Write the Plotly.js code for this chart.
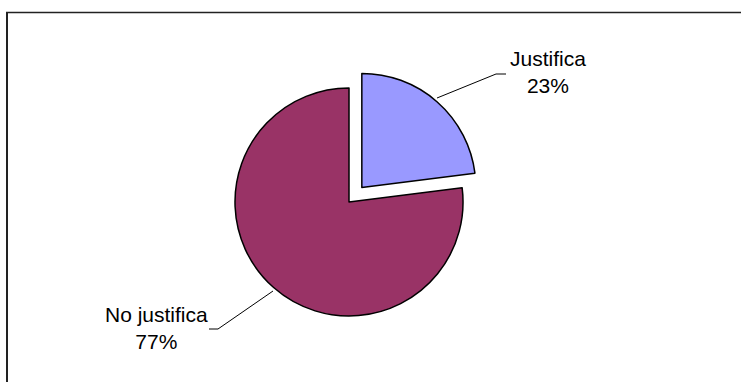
<!DOCTYPE html>
<html>
<head>
<meta charset="utf-8">
<script src="https://cdn.plot.ly/plotly-3.0.1.min.js"></script>
<style>html,body{margin:0;padding:0;background:#fff;}#chart{width:741px;height:382px;}</style>
</head>
<body>
<div id="chart"></div>
<script>
var labels = ["Justifica", "No justifica"];
var values = [23, 77];
var colors = ["#9999FF", "#993366"];
var pulls = [0.17, 0];

var W = 741, H = 382;
function px(x){ return x / W; }
function py(y){ return 1 - y / H; }

var total = values.reduce(function(a,b){return a+b;}, 0);
function pct(v){ return Math.round(v / total * 100) + "%"; }

var trace = {
  type: "pie",
  values: values,
  labels: labels,
  sort: false,
  direction: "clockwise",
  rotation: 0,
  pull: pulls,
  textinfo: "none",
  hoverinfo: "label+percent",
  marker: {colors: colors, line: {color: "#000000", width: 1.5}},
  domain: {x: [0.271, 0.671], y: [0.122, 0.8204]},
  showlegend: false
};

var font = {family: "Liberation Sans, Arial, sans-serif", size: 21, color: "#000000"};

var layout = {
  width: W, height: H,
  margin: {l: 0, r: 0, t: 0, b: 0},
  paper_bgcolor: "#ffffff",
  showlegend: false,
  shapes: [
    {type: "line", xref: "paper", yref: "paper", x0: px(7), x1: px(7), y0: py(12.5), y1: py(390), line: {color: "#222222", width: 2}},
    {type: "line", xref: "paper", yref: "paper", x0: px(6), x1: px(760), y0: py(12.5), y1: py(12.5), line: {color: "#222222", width: 1.5}},
    {type: "path", xref: "paper", yref: "paper",
     path: "M " + px(437) + "," + py(98) + " L " + px(496) + "," + py(74) + " L " + px(506) + "," + py(74),
     line: {color: "#000000", width: 1}},
    {type: "path", xref: "paper", yref: "paper",
     path: "M " + px(273) + "," + py(291) + " L " + px(218) + "," + py(329) + " L " + px(209) + "," + py(329),
     line: {color: "#000000", width: 1}}
  ],
  annotations: [
    {xref: "paper", yref: "paper", x: px(548), y: py(72), xanchor: "center", yanchor: "middle",
     text: labels[0] + "<br>" + pct(values[0]), showarrow: false, font: font},
    {xref: "paper", yref: "paper", x: px(156), y: py(328), xanchor: "center", yanchor: "middle",
     text: labels[1] + "<br>" + pct(values[1]), showarrow: false, font: font}
  ]
};

Plotly.newPlot("chart", [trace], layout, {displayModeBar: false, staticPlot: true});
</script>
</body>
</html>
